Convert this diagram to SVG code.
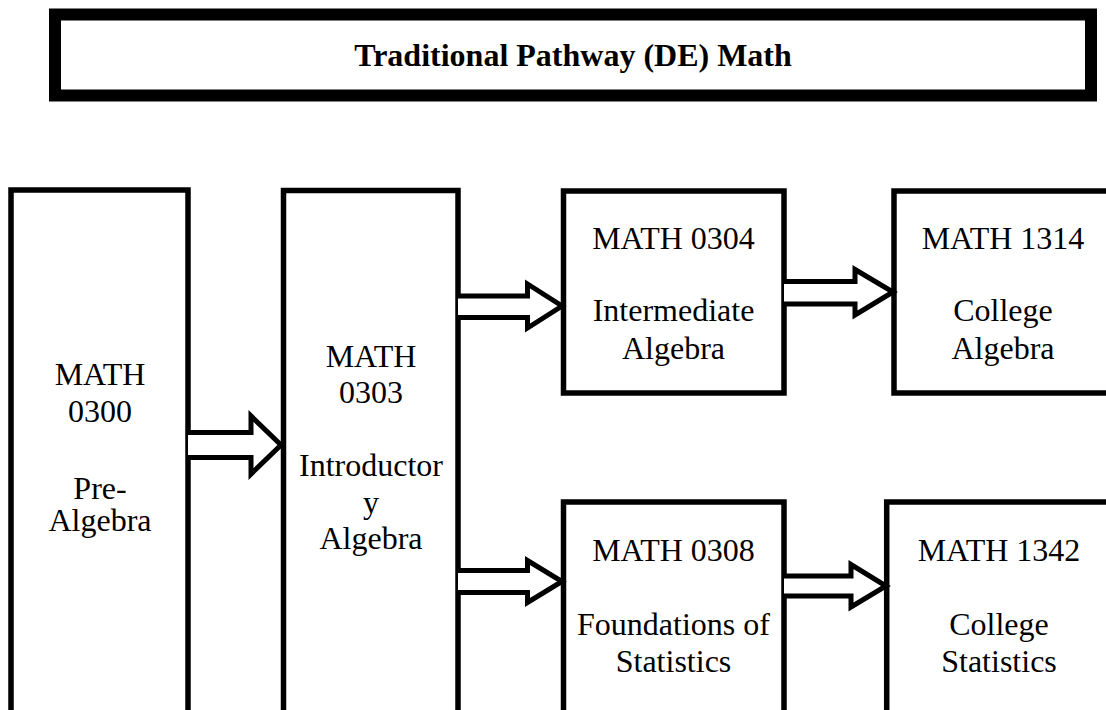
<svg xmlns="http://www.w3.org/2000/svg" width="1106" height="710" viewBox="0 0 1106 710">
<style>
.box{fill:#fff;stroke:#000;stroke-width:5.5}
.t{font-family:"Liberation Serif","Times New Roman",serif;font-size:32px;fill:#000;text-anchor:middle}
.title{font-weight:bold}
.arr{fill:#fff;stroke:#000;stroke-width:5;stroke-linejoin:miter;stroke-miterlimit:10}
</style>
<rect width="1106" height="710" fill="#fff"/>
<g id="title">
<rect x="55" y="14.5" width="1036" height="81" fill="#fff" stroke="#000" stroke-width="12"/>
<text class="t title" x="573" y="66">Traditional Pathway (DE) Math</text>
</g>
<g id="math0300">
<rect class="box" x="11" y="190" width="177" height="540"/>
<text class="t" x="100"><tspan x="100" y="385">MATH</tspan><tspan x="100" y="421.7">0300</tspan><tspan x="100" y="498.5">Pre-</tspan><tspan x="100" y="531">Algebra</tspan></text>
</g>
<g id="math0303">
<rect class="box" x="283.5" y="190.5" width="174.5" height="540"/>
<text class="t" x="371"><tspan x="371" y="367.3">MATH</tspan><tspan x="371" y="403.3">0303</tspan><tspan x="371" y="476">Introductor</tspan><tspan x="371" y="512.7">y</tspan><tspan x="371" y="549.3">Algebra</tspan></text>
</g>
<g id="math0304">
<rect class="box" x="563.5" y="191" width="220.5" height="202"/>
<text class="t" x="673.5"><tspan x="673.5" y="248.5">MATH 0304</tspan><tspan x="673.5" y="320.7">Intermediate</tspan><tspan x="673.5" y="358.5">Algebra</tspan></text>
</g>
<g id="math1314">
<rect class="box" x="894" y="191" width="224" height="202"/>
<text class="t" x="1003"><tspan x="1003" y="248.5">MATH 1314</tspan><tspan x="1003" y="320.7">College</tspan><tspan x="1003" y="358.5">Algebra</tspan></text>
</g>
<g id="math0308">
<rect class="box" x="563.5" y="502" width="220.5" height="230"/>
<text class="t" x="673.5"><tspan x="673.5" y="561">MATH 0308</tspan><tspan x="673.5" y="634.5">Foundations of</tspan><tspan x="673.5" y="672.2">Statistics</tspan></text>
</g>
<g id="math1342">
<rect class="box" x="886.7" y="502" width="230" height="230"/>
<text class="t" x="999"><tspan x="999" y="561">MATH 1342</tspan><tspan x="999" y="634.5">College</tspan><tspan x="999" y="672.2">Statistics</tspan></text>
</g>
<g id="connectors">
<path class="arr" d="M188,432.5 H251 V416 L281,445 L251,474 V457.5 H188"/>
<path class="arr" d="M458,296 H527.5 V284 L562,306 L527.5,328 V317.5 H458"/>
<path class="arr" d="M458,570.5 H527.5 V560.5 L562,581.5 L527.5,602.5 V592.5 H458"/>
<path class="arr" d="M784,281.5 H855 V269.5 L893,292 L855,315 V304 H784"/>
<path class="arr" d="M784,576 H851 V564.5 L886,586 L851,607 V596 H784"/>
</g>
</svg>
